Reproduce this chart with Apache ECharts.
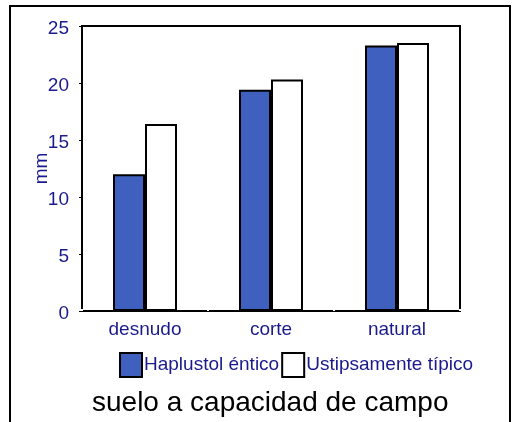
<!DOCTYPE html>
<html lang="es">
<head>
    <meta charset="UTF-8">
    <title>suelo a capacidad de campo</title>
    <script src="https://cdn.jsdelivr.net/npm/echarts@6/dist/echarts.min.js"></script>
</head>
<style>
    *{
        margin: 0;
        padding: 0;
    }
    html,body{
        width: 100%;
        height: 100%;
        overflow: hidden;
        background: #fff;
    }
    .container{
        width: 513px;
        height: 422px;
    }
</style>
<body>
<div class="container"></div>
<script>
    // datos
    let categories = ['desnudo', 'corte', 'natural'];
    let seriesNames = ['Haplustol éntico', 'Ustipsamente típico'];
    let haplustol = [12.0, 19.4, 23.3];
    let ustipsamente = [16.4, 20.3, 23.5];
    let yTicks = [0, 5, 10, 15, 20, 25];

    let navy = '#1a1a8c';
    let font = 'Liberation Sans, Arial, sans-serif';

    let container = document.querySelector('.container');
    let mycharts = echarts.init(container);

    let option = {
        animation: false,
        backgroundColor: '#fff',
        title: {
            text: 'suelo a capacidad de campo',
            left: 87,
            top: 384,
            textStyle: {
                color: '#000',
                fontFamily: font,
                fontSize: 28,
                fontWeight: 'normal'
            }
        },
        graphic: [{
            type: 'rect',
            shape: {x: 10, y: 6, width: 500, height: 430},
            style: {fill: 'none', stroke: '#000', lineWidth: 2},
            silent: true
        }],
        legend: {
            data: seriesNames,
            icon: 'rect',
            left: 119,
            top: 352,
            itemWidth: 22,
            itemHeight: 24,
            itemGap: 2,
            padding: 0,
            textStyle: {
                color: navy,
                fontFamily: font,
                fontSize: 19,
                padding: [0, 0, 0, -3]
            }
        },
        grid: {
            left: 82,
            right: 53,
            top: 26,
            bottom: 111,
            show: true,
            borderColor: '#000',
            borderWidth: 2
        },
        xAxis: {
            type: 'category',
            data: categories,
            axisLine: {lineStyle: {color: '#000', width: 2}},
            axisTick: {show: true, inside: true, length: 2, lineStyle: {color: '#fff', width: 2}},
            axisLabel: {
                color: navy,
                fontFamily: font,
                fontSize: 19,
                margin: 9
            }
        },
        yAxis: {
            type: 'value',
            min: yTicks[0],
            max: yTicks[yTicks.length - 1],
            interval: 5,
            name: 'mm',
            nameLocation: 'middle',
            nameGap: 31,
            nameMoveOverlap: false,
            nameTextStyle: {
                color: navy,
                fontFamily: font,
                fontSize: 19
            },
            splitLine: {show: false},
            axisLine: {show: true, lineStyle: {color: '#000', width: 2}},
            axisTick: {show: true, length: 3, lineStyle: {color: '#000', width: 1}},
            axisLabel: {
                color: navy,
                fontFamily: font,
                fontSize: 19,
                margin: 13,
                verticalAlign: 'top',
                lineHeight: 5
            }
        },
        series: [{
            name: seriesNames[0],
            type: 'bar',
            data: haplustol,
            barWidth: 32,
            barGap: '0%',
            itemStyle: {color: '#3f60bf', borderColor: '#000', borderWidth: 2}
        }, {
            name: seriesNames[1],
            type: 'bar',
            data: ustipsamente,
            barWidth: 32,
            barGap: '0%',
            itemStyle: {color: '#fff', borderColor: '#000', borderWidth: 2}
        }]
    };

    mycharts.setOption(option);
</script>
</body>
</html>
